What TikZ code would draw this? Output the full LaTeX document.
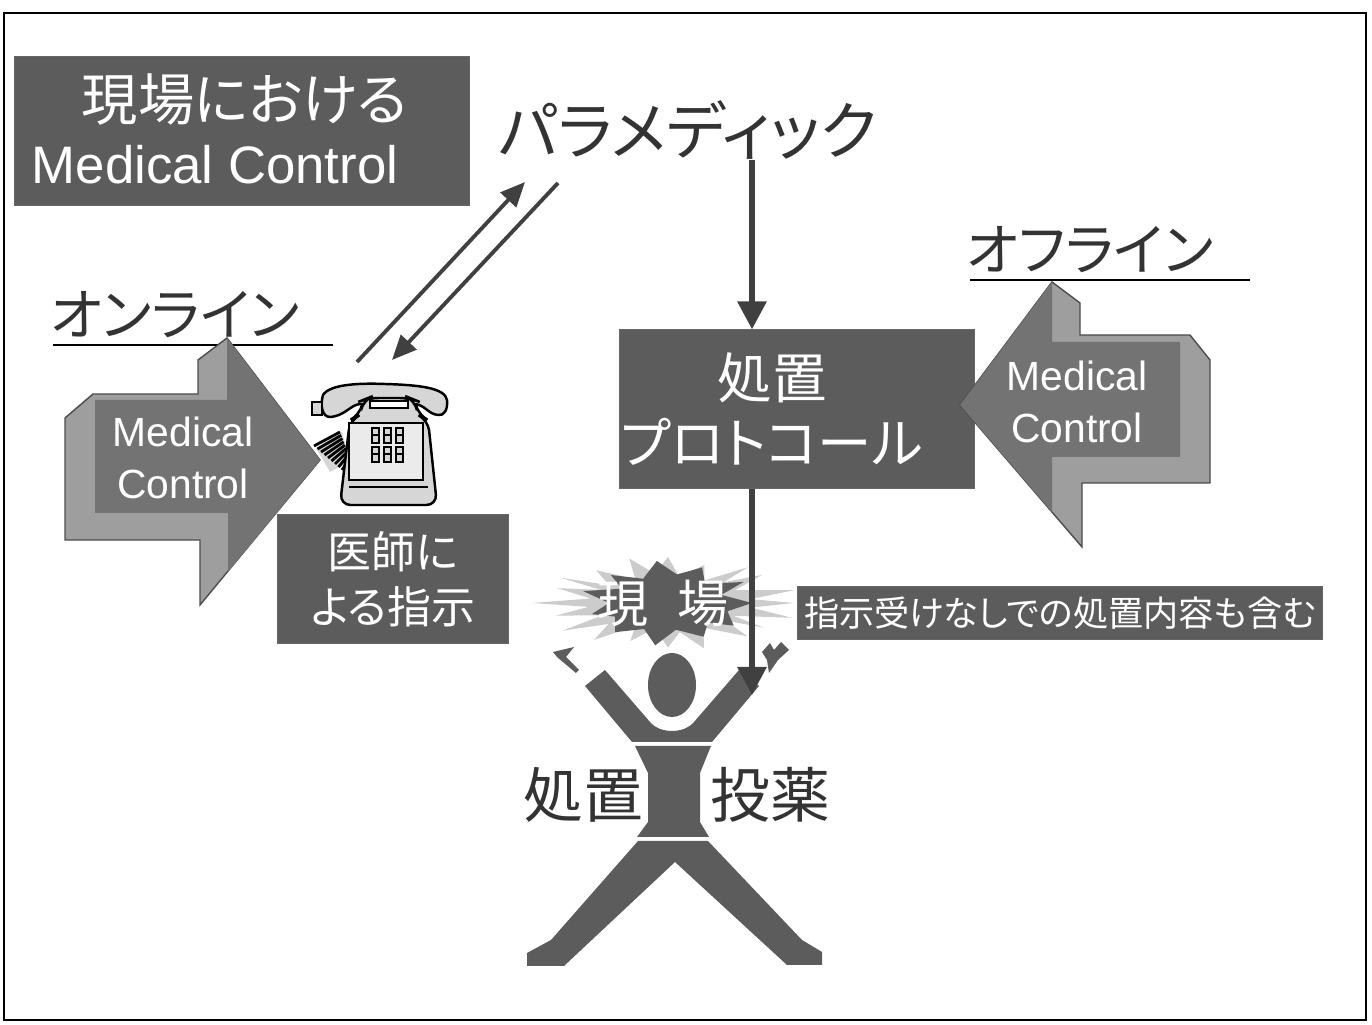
\documentclass[tikz,border=0pt]{standalone}
\usepackage{fontspec}
\setmainfont{Noto Sans CJK JP}[RawFeature={+palt}]
\newfontfamily\latin{Liberation Sans}
\usetikzlibrary{arrows.meta, positioning}
\definecolor{boxgray}{gray}{0.36}
\definecolor{facegray}{gray}{0.45}
\definecolor{sidegray}{gray}{0.62}
\definecolor{glowgray}{gray}{0.80}
\definecolor{phonegray}{gray}{0.84}

\begin{document}
\begin{tikzpicture}[x=0.01cm, y=-0.01cm,
        darkbox/.style={fill=boxgray, draw=black!60, line width=0.3pt, inner sep=0pt},
        wtext/.style={text=white, align=center},
        ktext/.style={text=black!80},
        blockarrow/.style={draw=black!70, line width=0.4pt},
        linkarrow/.style={draw=black!75, line width=1.1pt, -{Triangle[length=7pt, width=6pt]}},
        mainarrow/.style={draw=black!75, line width=1.7pt, -{Triangle[length=8pt, width=8pt]}}]
        \useasboundingbox (0,0) rectangle (1372,1025);
        % Frame
        \draw[line width=0.5pt] (4,13) rectangle (1366,1020);
        % Title
        \node[darkbox, minimum width=4.55cm, minimum height=1.48cm] (title) at (242,131) {};
        \node[wtext, font=\fontsize{16}{19}\selectfont] (titlejp) at (245,100) {現場における};
        \node[wtext, font=\latin\fontsize{15}{18}\selectfont] (titleen) at (215,165) {Medical Control};
        % Paramedic
        \node[ktext, inner sep=0pt, font=\fontsize{18}{22}\selectfont] (para) at (688,130) {パラメディック};
        \coordinate (spine) at (752,0);
        % Online side
        \node[ktext, font=\fontsize{16}{19}\selectfont] (online) at (175,315) {オンライン};
        \draw (53,345) -- (333,345);
        \filldraw[blockarrow, fill=sidegray] (227,338) -- (320,460) -- (200,605) -- (200,540) -- (65,540)
            -- (65,418) -- (93,394) -- (198,394) -- (198,360) -- cycle;
        \fill[facegray] (95,400) -- (227,400) -- (227,338) -- (320,460) -- (228,572) -- (228,513) -- (95,513) -- cycle;
        \node[wtext, font=\latin\fontsize{11.6}{14.8}\selectfont] (mcleft) at (183,458) {Medical\\Control};
        % Telephone
        \fill[phonegray] (316,448) -- (342,432) -- (350,462) -- (330,472) -- cycle;
        \foreach \i in {0,...,8} {
            \draw[line width=0.8pt] (314+3.5*\i,446+3*\i) -- (340+1.2*\i,432+3.3*\i);
        }
        \filldraw[fill=phonegray, line width=0.7pt] (323,395) .. controls (330,384) and (360,383) .. (385,384)
            .. controls (420,385) and (445,388) .. (447,400) .. controls (448,410) and (444,416) .. (438,415)
            .. controls (428,414) and (425,405) .. (415,404) -- (360,404)
            .. controls (350,405) and (345,416) .. (330,417) .. controls (322,417) and (320,405) .. (323,395) -- cycle;
        \filldraw[fill=phonegray, line width=0.6pt] (312,402) rectangle (322,415);
        \filldraw[fill=phonegray, line width=0.7pt, rounded corners=3] (340,505) -- (350,420) -- (360,415) -- (363,400)
            -- (368,398) -- (410,398) -- (415,400) -- (418,415) -- (428,420) -- (437,505) -- cycle;
        \filldraw[fill=white, line width=0.5pt] (370,401) rectangle (408,408);
        \filldraw[fill=white!92!black, line width=0.7pt] (349,423) rectangle (423,480);
        \foreach \bx in {372,384,396} {
            \foreach \by in {428,447} {
                \filldraw[fill=phonegray, line width=0.5pt] (\bx,\by) rectangle ++(7,15);
                \draw[line width=0.3pt] (\bx,\by+7) -- ++(7,0);
            }
        }
        \draw[line width=0.6pt] (349,487) -- (428,487);
        % Doctor's instruction
        \node[darkbox, wtext, minimum width=2.30cm, minimum height=1.28cm,
            font=\fontsize{12.5}{15.6}\selectfont] (doctor) at (393,579) {医師に\\よる指示};
        % Phone link arrows
        \coordinate (up0) at (357,362);
        \coordinate (up1) at (525,182);
        \coordinate (dn0) at (558,183);
        \coordinate (dn1) at (392,360);
        \draw[linkarrow] (up0) -- (up1);
        \draw[linkarrow] (dn0) -- (dn1);
        % Protocol
        \node[darkbox, minimum width=3.55cm, minimum height=1.58cm] (proto) at (797,409) {};
        \node[wtext, font=\fontsize{15.5}{18.5}\selectfont] (protolabel) at (772,409) {処置\\プロトコール};
        \draw[mainarrow] (para.south -| spine) -- (proto.north -| spine);
        % Offline side
        \node[ktext, font=\fontsize{16}{19}\selectfont] (offline) at (1090,250) {オフライン};
        \draw (970,280) -- (1250,280);
        \filldraw[blockarrow, fill=sidegray] (960,405) -- (1052,282) -- (1080,303) -- (1080,335) -- (1190,335)
            -- (1210,360) -- (1210,483) -- (1082,483) -- (1082,547) -- cycle;
        \fill[facegray] (960,405) -- (1052,282) -- (1052,342) -- (1180,342) -- (1180,457) -- (1052,457) -- (1052,512) -- cycle;
        \node[wtext, font=\latin\fontsize{11.6}{14.8}\selectfont] (mcright) at (1077,402) {Medical\\Control};
        % Note
        \node[darkbox, wtext, minimum width=5.24cm, minimum height=0.53cm,
            font=\fontsize{10}{12}\selectfont] (note) at (1060,613) {指示受けなしでの処置内容も含む};
        % Starburst
        \fill[glowgray] plot[variable=\k, samples at={0,...,39}]
            ({668+ifthenelse(mod(\k,2)==0,1,0.62)*(126+10*sin(77*\k))*cos(9*\k)},
             {603+ifthenelse(mod(\k,2)==0,1,0.62)*(44+4*sin(53*\k))*sin(9*\k)}) -- cycle;
        \fill[boxgray] plot[variable=\k, samples at={0,...,21}]
            ({668+ifthenelse(mod(\k,2)==0,1,0.7)*(84+6*sin(131*\k))*cos(360/22*\k)},
             {603+ifthenelse(mod(\k,2)==0,1,0.68)*(40+3*sin(71*\k))*sin(360/22*\k)}) -- cycle;
        \node[wtext, font=\fontsize{14.5}{17}\selectfont] (genba) at (663,603) {現\hspace{0.55em}場};
        % Figure
        \fill[boxgray] (672,685) ellipse [x radius=0.24cm, y radius=0.32cm];
        \fill[boxgray] (585,686) -- (605,670) -- (650,722) .. controls (660,734) and (684,734) .. (694,722)
            -- (739,670) -- (759,686) -- (712,742) -- (632,742) -- cycle;
        \fill[boxgray] (635,746) -- (711,746) -- (700,773) -- (700,822) -- (709,837) -- (637,837)
            -- (648,822) -- (648,773) -- cycle;
        \fill[boxgray] (638,841) -- (708,841) -- (802,940) -- (822,952) -- (822,965) -- (787,965)
            -- (675,862) -- (564,966) -- (527,966) -- (527,953) -- (551,940) -- cycle;
        \fill[boxgray] (553,652) -- (574,647) -- (566,657) -- (579,670) -- (576,673) -- (557,657) -- cycle;
        \fill[boxgray] (762,652) -- (770,643) -- (774,650) -- (781,642) -- (789,650) -- (778,660)
            -- (769,673) -- (767,660) -- cycle;
        \node[ktext, font=\fontsize{17}{20}\selectfont] (shochi) at (583,795) {処置};
        \node[ktext, font=\fontsize{17}{20}\selectfont] (toyaku) at (770,795) {投薬};
        \coordinate (rhand) at (752,695);
        \draw[mainarrow] (proto.south -| spine) -- (rhand);
    \end{tikzpicture}
\end{document}
